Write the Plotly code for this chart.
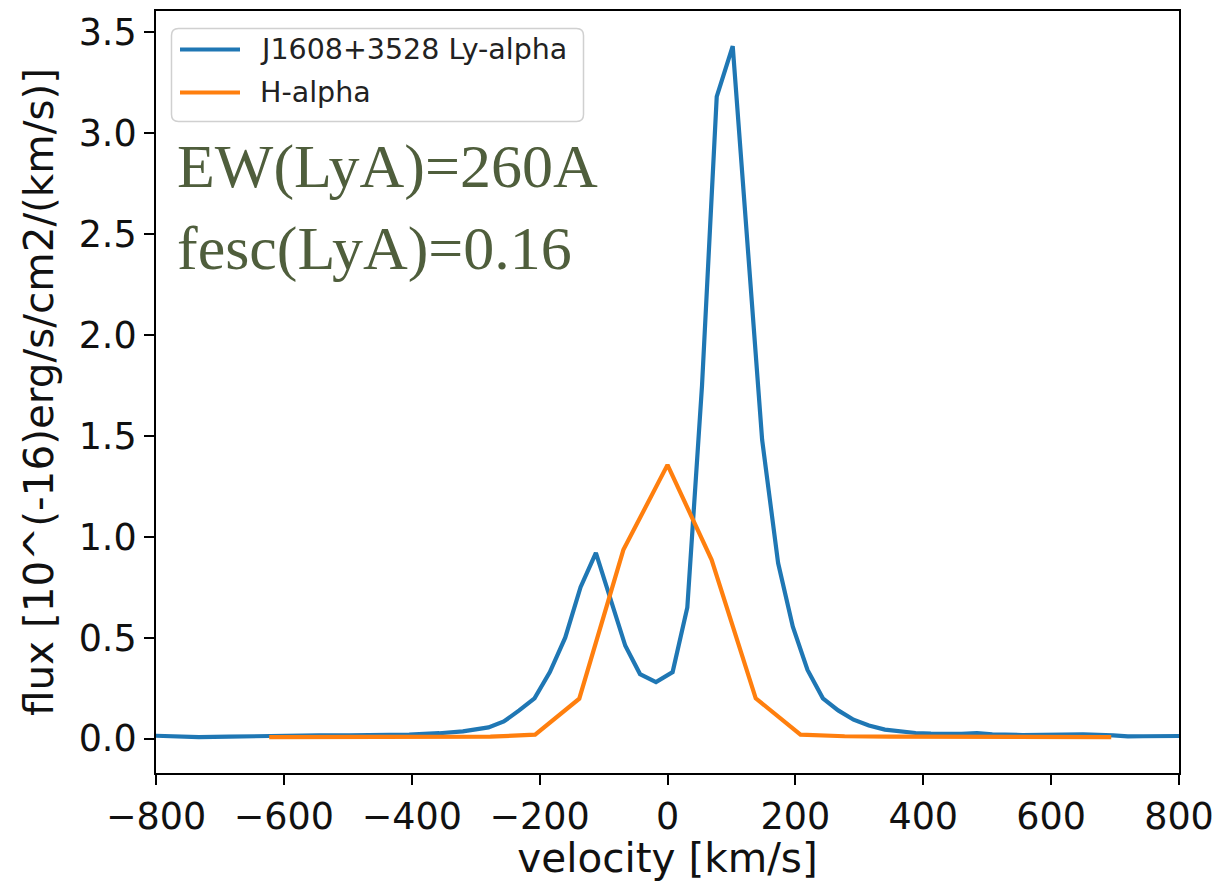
import plotly.graph_objects as go

# Ly-alpha profile of J1608+3528 (velocity in km/s, flux in 1e-16 erg/s/cm2/(km/s))
lya_velocity = [-826, -780, -733, -686, -639, -592, -545, -498, -451, -404, -357,
                -320, -280, -256, -232, -208, -184, -160, -136, -112, -66, -43,
                -18, 8, 31, 54, 77, 102, 148, 173, 196, 219, 243, 267, 291, 315,
                340, 364, 388, 412, 436, 460, 484, 508, 555, 602, 650, 697, 720,
                744, 791, 838]
lya_flux = [0.017, 0.013, 0.008, 0.010, 0.014, 0.016, 0.017, 0.016, 0.017, 0.020,
            0.027, 0.036, 0.056, 0.085, 0.140, 0.200, 0.330, 0.500, 0.750, 0.920,
            0.460, 0.320, 0.280, 0.330, 0.650, 1.750, 3.180, 3.430, 1.480, 0.870,
            0.555, 0.340, 0.200, 0.140, 0.094, 0.065, 0.045, 0.036, 0.028, 0.025,
            0.022, 0.024, 0.028, 0.022, 0.018, 0.020, 0.022, 0.016, 0.011, 0.012,
            0.013, 0.014]

# H-alpha profile on its own coarser velocity grid
ha_velocity = [-623, -554, -484, -415, -346, -277, -207, -138, -69, 0, 69, 138,
               208, 277, 347, 416, 486, 555, 625, 694]
ha_flux = [0.008, 0.008, 0.008, 0.008, 0.008, 0.010, 0.020, 0.198, 0.935, 1.356,
           0.886, 0.200, 0.020, 0.012, 0.010, 0.009, 0.009, 0.008, 0.008, 0.008]

series_names = ["J1608+3528 Ly-alpha", "H-alpha"]
series_colors = ["#1f77b4", "#ff7f0e"]

x_ticks = [-800, -600, -400, -200, 0, 200, 400, 600, 800]
y_ticks = [0.0, 0.5, 1.0, 1.5, 2.0, 2.5, 3.0, 3.5]
note_lines = ["EW(LyA)=260A", "fesc(LyA)=0.16"]

W, H = 1220, 882
M_L, M_R, M_T, M_B = 156, 41, 11, 109
PLOT_W = W - M_L - M_R
PLOT_H = H - M_T - M_B
LINE_W = 4.2


def px_to_paper(px, py):
    """Convert figure pixel coordinates into paper coordinates."""
    return (px - M_L) / PLOT_W, (H - M_B - py) / PLOT_H


fig = go.Figure()
for xs, ys, name, color in zip([lya_velocity, ha_velocity], [lya_flux, ha_flux],
                               series_names, series_colors):
    fig.add_trace(go.Scatter(x=xs, y=ys, mode="lines", name=name,
                             line=dict(color=color, width=LINE_W),
                             showlegend=False, hoverinfo="x+y+name"))

shapes = []
annotations = []


def P(px, py):
    x, y = px_to_paper(px, py)
    return f"{x:.5f},{y:.5f}"


# Legend frame with rounded corners
bx0, by0, bx1, by1, r = 171.5, 28.5, 583.5, 121.5, 7
path = (f"M {P(bx0 + r, by0)} L {P(bx1 - r, by0)} Q {P(bx1, by0)} {P(bx1, by0 + r)} "
        f"L {P(bx1, by1 - r)} Q {P(bx1, by1)} {P(bx1 - r, by1)} "
        f"L {P(bx0 + r, by1)} Q {P(bx0, by1)} {P(bx0, by1 - r)} "
        f"L {P(bx0, by0 + r)} Q {P(bx0, by0)} {P(bx0 + r, by0)} Z")
shapes.append(dict(type="path", xref="paper", yref="paper", path=path,
                   line=dict(color="#d0d0d0", width=1.5),
                   fillcolor="rgba(255,255,255,0.8)", layer="above"))

row_y = [49.5, 92.5]
for name, color, ry in zip(series_names, series_colors, row_y):
    x0, y0 = px_to_paper(180, ry)
    x1, _ = px_to_paper(240, ry)
    shapes.append(dict(type="line", xref="paper", yref="paper",
                       x0=x0, x1=x1, y0=y0, y1=y0,
                       line=dict(color=color, width=LINE_W), layer="above"))
    tx, ty = px_to_paper(258, ry)
    annotations.append(dict(text=name, xref="paper", yref="paper", x=tx, y=ty,
                            xanchor="left", yanchor="middle", showarrow=False,
                            font=dict(family="DejaVu Sans", size=28.5, color="#222")))

# Equivalent width and escape fraction notes
for line, cy in zip(note_lines, [167.0, 248.0]):
    tx, ty = px_to_paper(175, cy)
    annotations.append(dict(text=line, xref="paper", yref="paper", x=tx, y=ty,
                            xanchor="left", yanchor="middle", showarrow=False,
                            font=dict(family="Liberation Serif", size=62,
                                      color="#4f5e3c")))

axis_common = dict(showline=True, linecolor="black", linewidth=2, mirror=True,
                   ticks="outside", ticklen=10, tickwidth=2, tickcolor="black",
                   showgrid=False, zeroline=False,
                   tickfont=dict(family="DejaVu Sans", size=36.5, color="#111"),
                   title_font=dict(family="DejaVu Sans", size=40.5, color="#111"))

fig.update_layout(
    width=W, height=H,
    margin=dict(l=M_L, r=M_R, t=M_T, b=M_B, autoexpand=False),
    paper_bgcolor="white", plot_bgcolor="white",
    xaxis=dict(range=[-800, 800], tickvals=x_ticks,
               title=dict(text="velocity [km/s]", standoff=10), **axis_common),
    yaxis=dict(range=[-0.17, 3.604], tickvals=y_ticks, tickformat=".1f",
               title=dict(text="flux [10^(-16)erg/s/cm2/(km/s)]", standoff=12),
               **axis_common),
    shapes=shapes,
    annotations=annotations,
    showlegend=False,
)

fig.write_html("out.html")
